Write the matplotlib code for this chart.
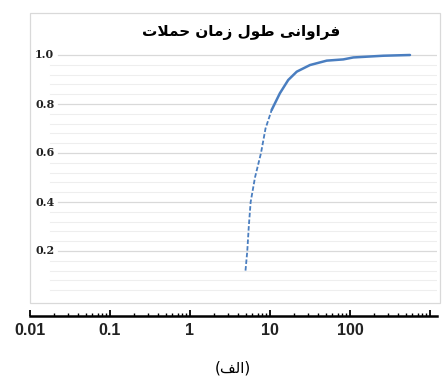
import numpy as np
import matplotlib
matplotlib.use("Agg")
import matplotlib.pyplot as plt
from matplotlib.patches import Rectangle
from matplotlib.ticker import LogLocator, NullFormatter

# attack duration (x, log scale) vs cumulative frequency
duration = [4.94, 5.20, 5.43, 5.73, 6.49, 7.72, 8.79, 10.5, 13.3, 16.9, 21.6,
            31.6, 51.2, 82.4, 110, 261, 562]
freq = [0.12, 0.2, 0.3, 0.4, 0.5, 0.6, 0.7, 0.776, 0.844, 0.898, 0.932,
        0.959, 0.977, 0.982, 0.99, 0.997, 1.0]
n_dashed = 8  # the steep part is drawn dashed

x_ticks = [0.01, 0.1, 1, 10, 100, 1000]
x_labels = ["0.01", "0.1", "1", "10", "100", ""]
y_major = [0.2, 0.4, 0.6, 0.8, 1.0]
y_labels = ["0.2", "0.4", "0.6", "0.8", "1.0"]
y_minor = [0.04, 0.08, 0.12, 0.16, 0.24, 0.28, 0.32, 0.36, 0.44, 0.48, 0.52,
           0.56, 0.64, 0.68, 0.72, 0.76, 0.84, 0.88, 0.92, 0.96]

# Persian text, written in shaped (presentation) forms, visual order
title = "\uFE95\uFEFC\uFEE4\uFEA3 \uFEE5\uFE8E\uFEE3\uFEAF \uFEDD\uFEEE\uFEC3 \uFEF0\uFEE7\uFE8D\uFEED\uFE8D\uFEAE\uFED3"
caption = "(\uFED2\uFEDF\uFE8D)"

W, H = 446, 383
fig = plt.figure(figsize=(W / 100, H / 100), dpi=100)
ax = fig.add_axes([30 / W, (H - 300) / H, 407 / W, 250 / H])
ax.set_xscale("log")
ax.set_xlim(0.01, 10 ** (407 / 80 - 2))
ax.set_ylim(0, 250 / 245)

for y in y_minor:
    ax.axhline(y, xmin=20 / 407, xmax=1, color="#eeeeee", lw=0.8, zorder=0)
for y in y_major:
    ax.axhline(y, xmin=28 / 407, xmax=1, color="#d9d9d9", lw=0.9, zorder=0)
for y, lab in zip(y_major, y_labels):
    ax.text(5 / 407, y, lab, transform=ax.get_yaxis_transform(), ha="left",
            va="center", fontsize=8, fontweight="bold", family="DejaVu Serif",
            color="#222222")

col = "#4a7ec0"
ax.plot(duration[:n_dashed], freq[:n_dashed], color=col, lw=1.3, ls=(0, (2.5, 1.2)))
ax.plot(duration[n_dashed - 1:], freq[n_dashed - 1:], color=col, lw=1.8,
        solid_capstyle="round")

for s in ["top", "left", "right"]:
    ax.spines[s].set_visible(False)
ax.spines["bottom"].set_position(("outward", 11.5))
ax.spines["bottom"].set_linewidth(1.8)
ax.set_yticks([])
ax.set_xticks(x_ticks, x_labels)
ax.xaxis.set_minor_locator(LogLocator(base=10, subs=np.arange(2, 10)))
ax.xaxis.set_minor_formatter(NullFormatter())
ax.tick_params(axis="x", which="major", direction="in", length=4.5, width=1.3, pad=5)
ax.tick_params(axis="x", which="minor", direction="in", length=2.5, width=1)
for t in ax.get_xticklabels():
    t.set_fontsize(11.5)
    t.set_fontweight("bold")
    t.set_family("Liberation Sans")
    t.set_color("#222222")

fig.add_artist(Rectangle((30 / W, (H - 303) / H), 410 / W, 290 / H,
                         transform=fig.transFigure, fill=False,
                         ec="#d9d9d9", lw=0.9))
fig.text(241 / W, 1 - 32 / H, title, ha="center", va="center", fontsize=11,
         fontweight="bold", family="DejaVu Sans")
fig.text(233 / W, 1 - 368 / H, caption, ha="center", va="center", fontsize=11,
         family="DejaVu Sans")

fig.savefig("out.png", dpi=100)
